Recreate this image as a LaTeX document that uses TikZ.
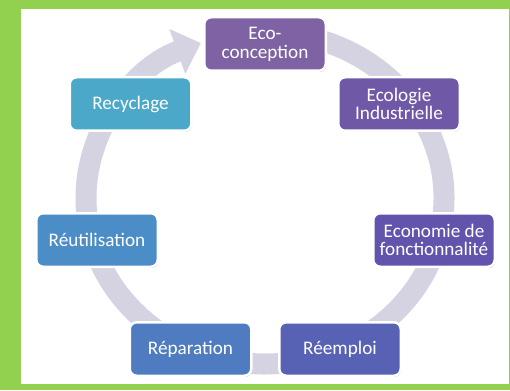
\documentclass[tikz,border=0pt]{standalone}
\usepackage{fontspec}
\setmainfont{Carlito}
\usetikzlibrary{arrows.meta,shadows,calc}
\definecolor{bordergreen}{HTML}{92D050}
\definecolor{ringcol}{HTML}{D5D3E2}
\definecolor{cA}{HTML}{7E62A4}
\definecolor{cB}{HTML}{6F58A6}
\definecolor{cC}{HTML}{6254AC}
\definecolor{cD}{HTML}{5862B4}
\definecolor{cE}{HTML}{4F7BC0}
\definecolor{cF}{HTML}{4B8DC6}
\definecolor{cG}{HTML}{4BA8C8}
\begin{document}
\begin{tikzpicture}[x=1pt,y=1pt,
  box/.style={draw=white, line width=2.5pt, rounded corners=7pt,
    minimum width=121.5pt, minimum height=53.5pt, inner sep=0pt,
    align=center, text=white, font=\fontsize{19.2}{18.8}\selectfont,
    drop shadow={shadow xshift=0.8pt, shadow yshift=-1.2pt, opacity=0.25, fill=black}},
  ring/.style={draw=ringcol, line width=21pt}
]
\fill[bordergreen] (0,0) rectangle (510,-390);
\fill[white] (21,-9) rectangle (509,-384);
\useasboundingbox (0,0) rectangle (510,-390);
\coordinate (c) at (265,-198);
\draw[ring, -{Triangle[width=46pt,length=25pt]}] ($(c)+(85:179 and 166)$)
  arc[start angle=85, end angle=-249, x radius=179, y radius=166];
\node[box, fill=cA] (eco)  at (265,-44)    {Eco-\\conception};
\node[box, fill=cB] (ecol) at (399,-104)   {Ecologie\\Industrielle};
\node[box, fill=cC] (econ) at (434,-240)   {Economie de\\fonctionnalité};
\node[box, fill=cD] (reem) at (340,-349)   {Réemploi};
\node[box, fill=cE] (repa) at (190.5,-349) {Réparation};
\node[box, fill=cF] (reut) at (97,-240)    {Réutilisation};
\node[box, fill=cG] (recy) at (130.5,-104) {Recyclage};
\end{tikzpicture}
\end{document}
